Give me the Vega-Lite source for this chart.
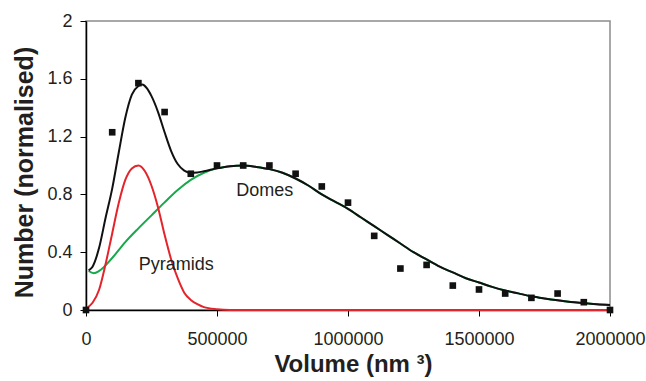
{
  "$schema": "https://vega.github.io/schema/vega-lite/v6.json",
  "width": 524,
  "height": 289,
  "autosize": {"type": "none"},
  "padding": {"left": 86, "top": 21, "right": 36, "bottom": 71},
  "config": {
    "view": {"stroke": "#8c8c8c", "strokeWidth": 1.5},
    "font": "Liberation Sans",
    "text": {"font": "Liberation Sans"}
  },
  "datasets": {
    "points": [
      {"x": 0, "y": 0}, {"x": 100000, "y": 1.23}, {"x": 200000, "y": 1.57},
      {"x": 300000, "y": 1.37}, {"x": 400000, "y": 0.943}, {"x": 500000, "y": 1.0},
      {"x": 600000, "y": 1.0}, {"x": 700000, "y": 1.0}, {"x": 800000, "y": 0.943},
      {"x": 900000, "y": 0.855}, {"x": 1000000, "y": 0.743}, {"x": 1100000, "y": 0.513},
      {"x": 1200000, "y": 0.287}, {"x": 1300000, "y": 0.312}, {"x": 1400000, "y": 0.169},
      {"x": 1500000, "y": 0.142}, {"x": 1600000, "y": 0.114}, {"x": 1700000, "y": 0.084},
      {"x": 1800000, "y": 0.114}, {"x": 1900000, "y": 0.054}, {"x": 2000000, "y": 0}
    ],
    "pyramids": [
      {"x": 0, "y": 0.01}, {"x": 25000, "y": 0.05}, {"x": 50000, "y": 0.14},
      {"x": 75000, "y": 0.32}, {"x": 100000, "y": 0.53}, {"x": 125000, "y": 0.74},
      {"x": 150000, "y": 0.9}, {"x": 175000, "y": 0.98}, {"x": 200000, "y": 1.0},
      {"x": 225000, "y": 0.96}, {"x": 250000, "y": 0.86}, {"x": 275000, "y": 0.71},
      {"x": 300000, "y": 0.52}, {"x": 325000, "y": 0.35}, {"x": 350000, "y": 0.22},
      {"x": 375000, "y": 0.12}, {"x": 400000, "y": 0.07}, {"x": 425000, "y": 0.04},
      {"x": 450000, "y": 0.02}, {"x": 500000, "y": 0.005}, {"x": 550000, "y": 0.0},
      {"x": 2000000, "y": 0.0}
    ],
    "domes": [
      {"x": 10000, "y": 0.27}, {"x": 30000, "y": 0.255}, {"x": 50000, "y": 0.27},
      {"x": 100000, "y": 0.36}, {"x": 150000, "y": 0.47}, {"x": 200000, "y": 0.565},
      {"x": 250000, "y": 0.655}, {"x": 300000, "y": 0.745}, {"x": 350000, "y": 0.83},
      {"x": 400000, "y": 0.9}, {"x": 450000, "y": 0.95}, {"x": 500000, "y": 0.98},
      {"x": 550000, "y": 0.995}, {"x": 600000, "y": 1.0}, {"x": 650000, "y": 0.99},
      {"x": 700000, "y": 0.975}, {"x": 750000, "y": 0.95}, {"x": 800000, "y": 0.91},
      {"x": 850000, "y": 0.86}, {"x": 900000, "y": 0.8}, {"x": 950000, "y": 0.75},
      {"x": 1000000, "y": 0.7}, {"x": 1050000, "y": 0.64}, {"x": 1100000, "y": 0.58},
      {"x": 1150000, "y": 0.52}, {"x": 1200000, "y": 0.46}, {"x": 1250000, "y": 0.4},
      {"x": 1300000, "y": 0.35}, {"x": 1350000, "y": 0.3}, {"x": 1400000, "y": 0.26},
      {"x": 1450000, "y": 0.22}, {"x": 1500000, "y": 0.19}, {"x": 1550000, "y": 0.16},
      {"x": 1600000, "y": 0.135}, {"x": 1650000, "y": 0.115}, {"x": 1700000, "y": 0.095},
      {"x": 1750000, "y": 0.08}, {"x": 1800000, "y": 0.067}, {"x": 1850000, "y": 0.056},
      {"x": 1900000, "y": 0.048}, {"x": 1950000, "y": 0.04}, {"x": 2000000, "y": 0.035}
    ],
    "total": [
      {"x": 10000, "y": 0.275}, {"x": 25000, "y": 0.3}, {"x": 50000, "y": 0.43},
      {"x": 75000, "y": 0.64}, {"x": 100000, "y": 0.84}, {"x": 125000, "y": 1.09},
      {"x": 150000, "y": 1.33}, {"x": 175000, "y": 1.49}, {"x": 200000, "y": 1.55},
      {"x": 215000, "y": 1.56}, {"x": 230000, "y": 1.54}, {"x": 250000, "y": 1.48},
      {"x": 275000, "y": 1.37}, {"x": 300000, "y": 1.23}, {"x": 325000, "y": 1.1},
      {"x": 350000, "y": 1.01}, {"x": 375000, "y": 0.965}, {"x": 400000, "y": 0.95},
      {"x": 425000, "y": 0.952}, {"x": 450000, "y": 0.96}, {"x": 500000, "y": 0.98},
      {"x": 550000, "y": 0.995}, {"x": 600000, "y": 1.0}, {"x": 650000, "y": 0.99},
      {"x": 700000, "y": 0.975}, {"x": 750000, "y": 0.95}, {"x": 800000, "y": 0.91},
      {"x": 850000, "y": 0.86}, {"x": 900000, "y": 0.8}, {"x": 950000, "y": 0.75},
      {"x": 1000000, "y": 0.7}, {"x": 1050000, "y": 0.64}, {"x": 1100000, "y": 0.58},
      {"x": 1150000, "y": 0.52}, {"x": 1200000, "y": 0.46}, {"x": 1250000, "y": 0.4},
      {"x": 1300000, "y": 0.35}, {"x": 1350000, "y": 0.3}, {"x": 1400000, "y": 0.26},
      {"x": 1450000, "y": 0.22}, {"x": 1500000, "y": 0.19}, {"x": 1550000, "y": 0.16},
      {"x": 1600000, "y": 0.135}, {"x": 1650000, "y": 0.115}, {"x": 1700000, "y": 0.095},
      {"x": 1750000, "y": 0.08}, {"x": 1800000, "y": 0.067}, {"x": 1850000, "y": 0.056},
      {"x": 1900000, "y": 0.048}, {"x": 1950000, "y": 0.04}, {"x": 2000000, "y": 0.035}
    ],
    "labels": [
      {"x": 682000, "y": 0.786, "label": "Domes"},
      {"x": 344700, "y": 0.28, "label": "Pyramids"}
    ]
  },
  "encoding": {
    "x": {
      "field": "x", "type": "quantitative",
      "scale": {"domain": [0, 2000000], "nice": false, "zero": false},
      "axis": {
        "values": [0, 500000, 1000000, 1500000, 2000000],
        "format": "d",
        "grid": false,
        "labelFlush": false, "labelOverlap": false, "labelBound": false,
        "domainColor": "#000000", "domainWidth": 1.5,
        "tickColor": "#000000", "tickSize": 6, "tickWidth": 1,
        "labelFontSize": 18, "labelColor": "#231f20", "labelPadding": 14,
        "labelFont": "Liberation Sans",
        "title": "Volume (nm ³)",
        "titleFont": "Liberation Sans", "titleFontSize": 24, "titleFontWeight": "bold",
        "titleColor": "#231f20",
        "titleX": 267, "titleY": 61, "titleAlign": "center", "titleBaseline": "alphabetic"
      }
    },
    "y": {
      "field": "y", "type": "quantitative",
      "scale": {"domain": [0, 2], "nice": false},
      "axis": {
        "values": [0, 0.4, 0.8, 1.2, 1.6, 2],
        "format": "~g",
        "grid": false,
        "labelFlush": false, "labelOverlap": false,
        "domainColor": "#000000", "domainWidth": 1.5,
        "tickColor": "#000000", "tickSize": 6, "tickWidth": 1,
        "labelFontSize": 18, "labelColor": "#231f20", "labelPadding": 8,
        "labelFont": "Liberation Sans",
        "title": "Number (normalised)",
        "titleFont": "Liberation Sans", "titleFontSize": 25, "titleFontWeight": "bold",
        "titleColor": "#231f20",
        "titleAngle": 270, "titleX": -54, "titleY": 151,
        "titleAlign": "center", "titleBaseline": "alphabetic"
      }
    }
  },
  "layer": [
    {
      "data": {"name": "domes"},
      "mark": {"type": "line", "color": "#16a84a", "strokeWidth": 2, "interpolate": "monotone"}
    },
    {
      "data": {"name": "pyramids"},
      "mark": {"type": "line", "color": "#e4242b", "strokeWidth": 2, "interpolate": "monotone"}
    },
    {
      "data": {"name": "total"},
      "mark": {"type": "line", "color": "#111111", "strokeWidth": 2, "interpolate": "monotone"}
    },
    {
      "data": {"name": "points"},
      "mark": {"type": "point", "shape": "square", "filled": true, "size": 44, "color": "#111111", "opacity": 1}
    },
    {
      "data": {"name": "labels"},
      "mark": {"type": "text", "fontSize": 18, "color": "#231f20", "align": "center", "baseline": "alphabetic", "font": "Liberation Sans"},
      "encoding": {"text": {"field": "label"}}
    }
  ]
}
